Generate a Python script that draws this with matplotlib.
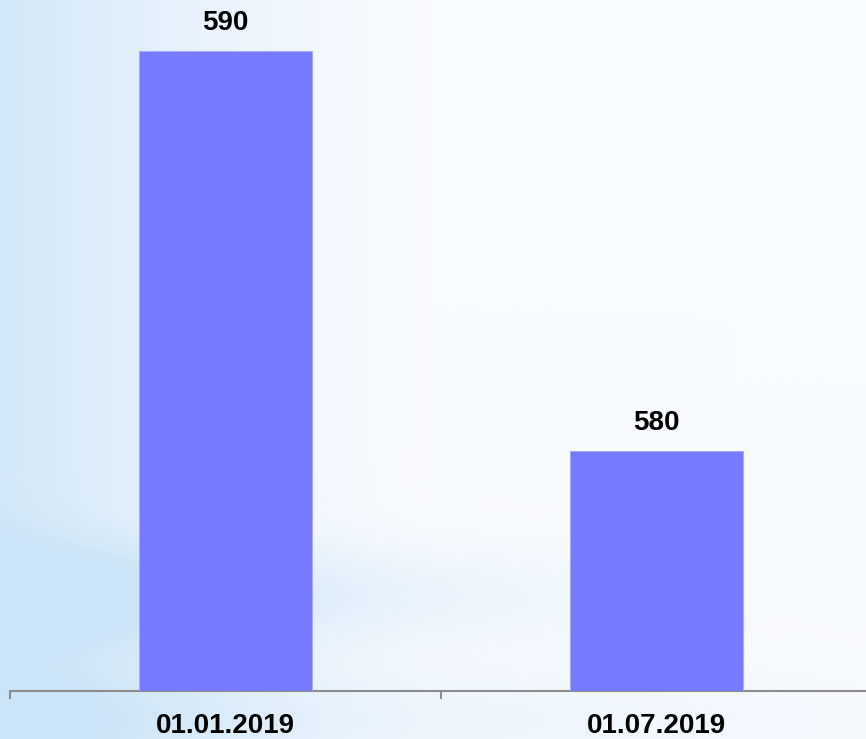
import numpy as np
import matplotlib
matplotlib.use("Agg")
import matplotlib.pyplot as plt

categories = ["01.01.2019", "01.07.2019"]
values = [590, 580]

W, H = 866, 739
fig = plt.figure(figsize=(W / 100, H / 100), dpi=100)

# background gradient (decoration)
bg = fig.add_axes([0, 0, 1, 1])
bg.set_axis_off()
yy, xx = np.mgrid[0:H, 0:W]
xf = xx / W
left_strength = np.clip(1 - xf / 0.5, 0, 1) ** 1.4
band = np.exp(-((yy - 595) / 50.0) ** 2) * np.clip(1 - xf / 0.85, 0, 1) * 0.75
low = np.exp(-((yy - 720) / 60.0) ** 2) * np.clip(1 - xf / 1.2, 0, 1) * 0.45
s = np.clip(left_strength * 0.85 + band + low, 0, 1)
white = np.array([0.975, 0.985, 1.0])
blue = np.array([0.80, 0.895, 0.97])
img = white[None, None, :] * (1 - s[..., None]) + blue[None, None, :] * s[..., None]
bg.imshow(img, extent=[0, 1, 0, 1], aspect="auto", origin="upper")
bg.set_xlim(0, 1)
bg.set_ylim(0, 1)

# main axes
ax_left = 10 / W
ax_width = 862 / W
ax_bottom = (H - 691) / H
ax_height = 691 / H
ax = fig.add_axes([ax_left, ax_bottom, ax_width, ax_height])
ax.patch.set_alpha(0)

ymin = 574
px_per_unit = 40
ax.set_ylim(ymin, ymin + 691 / px_per_unit)
ax.set_xlim(-0.5, 1.5)

x = np.arange(len(categories))
bars = ax.bar(x, [v - ymin for v in values], bottom=ymin, width=0.4,
              color="#7779ff", edgecolor="#a9aaff", linewidth=0.8, zorder=3)

for xi, v in zip(x, values):
    ax.annotate(f"{v}", xy=(xi, v), xytext=(0, 28), textcoords="offset pixels",
                ha="center", va="center", fontsize=20, fontweight="bold",
                family="Liberation Sans", color="black")

for sp in ["top", "right", "left"]:
    ax.spines[sp].set_visible(False)
ax.spines["bottom"].set_color("#8c8c8c")
ax.spines["bottom"].set_linewidth(1.5)
ax.set_yticks([])
ax.set_xticks([-0.5, 0.5, 1.5], minor=False)
ax.set_xticklabels([])
ax.tick_params(axis="x", length=6, width=1.5, color="#8c8c8c", direction="out")
ax.set_xticks(x, minor=True)
ax.set_xticklabels(categories, minor=True, fontsize=20, fontweight="bold",
                   family="Liberation Sans")
ax.tick_params(axis="x", which="minor", length=0, pad=16)

fig.savefig("out.png", dpi=100)
